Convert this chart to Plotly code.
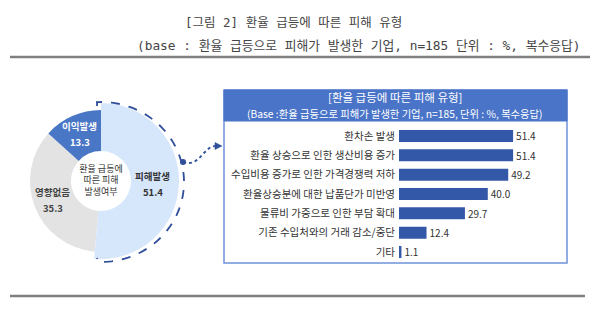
import numpy as np
import plotly.graph_objects as go

W, H = 599, 323
FONT = "Noto Sans CJK KR"
TITLE_FONT = "DejaVu Sans Mono, Noto Sans CJK KR"

# ---- data ----
pie_labels = ["피해발생", "영향없음", "이익발생"]
pie_values = [51.4, 35.3, 13.3]
bar_categories = [
    "환차손 발생",
    "환율 상승으로 인한 생산비용 증가",
    "수입비용 증가로 인한 가격경쟁력 저하",
    "환율상승분에 대한 납품단가 미반영",
    "물류비 가중으로 인한 부담 확대",
    "기존 수입처와의 거래 감소/중단",
    "기타",
]
bar_values = [51.4, 51.4, 49.2, 40.0, 29.7, 12.4, 1.1]

title_line1 = "[그림 2] 환율 급등에 따른 피해 유형"
title_line2 = "(base : 환율 급등으로 피해가 발생한 기업, n=185 단위 : %, 복수응답)"
box_title1 = "[환율 급등에 따른 피해 유형]"
box_title2 = "(Base :환율 급등으로 피해가 발생한 기업, n=185, 단위 : %, 복수응답)"
center_text = "환율 급등에<br>따른 피해<br>발생여부"

# ---- colours ----
LIGHT_BLUE = "#d6e6fb"
GREY = "#e3e3e3"
MID_BLUE = "#4a76c6"
BAR_BLUE = "#3458a8"
HEAD_BLUE = "#4a74c8"
BORDER_BLUE = "#6d93d8"
DASH_BLUE = "#2f4f9a"
TRANSP = "rgba(0,0,0,0)"
pie_text_colors = ["#333333", "#444444", "#ffffff"]


def X(px):
    return px / W


def Y(py):
    return 1 - py / H


fig = go.Figure()

# pie geometry (pixels)
cx, cy = 101, 181
rA, rB, rh = 78, 71, 30

fig.add_trace(go.Pie(
    labels=pie_labels, values=pie_values, sort=False, direction="clockwise", rotation=0,
    hole=rh / rA,
    domain=dict(x=[X(cx - rA), X(cx + rA)], y=[Y(cy + rA), Y(cy - rA)]),
    marker=dict(colors=[LIGHT_BLUE, TRANSP, TRANSP], line=dict(width=0)),
    textinfo="none", hoverinfo="skip", showlegend=False,
))
fig.add_trace(go.Pie(
    labels=pie_labels, values=pie_values, sort=False, direction="clockwise", rotation=0,
    hole=rh / rB,
    domain=dict(x=[X(cx - rB), X(cx + rB)], y=[Y(cy + rB), Y(cy - rB)]),
    marker=dict(colors=[TRANSP, GREY, MID_BLUE], line=dict(width=0)),
    textinfo="none",
    title=dict(text=center_text, position="middle center",
               font=dict(family=FONT, size=9, color="#333333")),
    showlegend=False,
))

# bar chart
px_per_unit = 2.22
bx0 = 399
xmax = 75
fig.add_trace(go.Bar(
    x=bar_values, y=bar_categories, orientation="h",
    marker=dict(color=BAR_BLUE, line=dict(width=0)), width=0.62,
    texttemplate="%{x:.1f}", textposition="outside", cliponaxis=False,
    constraintext="none",
    textfont=dict(family=FONT, size=10, color="#333333"),
    showlegend=False, xaxis="x", yaxis="y",
))

row_top, row_bot = 136, 252
step = (row_bot - row_top) / 6
fig.update_layout(
    width=W, height=H, margin=dict(l=0, r=0, t=0, b=0),
    paper_bgcolor="white", plot_bgcolor="rgba(0,0,0,0)",
    font=dict(family=FONT, color="#333333"),
    xaxis=dict(domain=[X(bx0), X(bx0 + xmax * px_per_unit)], range=[0, xmax],
               visible=False, fixedrange=True),
    yaxis=dict(domain=[Y(row_bot + step / 2), Y(row_top - step / 2)],
               range=[6.5, -0.5], showgrid=False, zeroline=False, showline=False,
               ticks="", ticklabelstandoff=3,
               tickfont=dict(family=FONT, size=10.5, color="#333333")),
)

shapes = []
# horizontal rules
shapes.append(dict(type="line", xref="paper", yref="paper", x0=X(10), x1=X(590), y0=Y(57), y1=Y(57),
                   line=dict(color="#808080", width=2.4)))
shapes.append(dict(type="line", xref="paper", yref="paper", x0=X(10), x1=X(585), y0=Y(296), y1=Y(296),
                   line=dict(color="#808080", width=2.4)))
# box
shapes.append(dict(type="rect", xref="paper", yref="paper", x0=X(224), x1=X(567), y0=Y(263), y1=Y(90),
                   line=dict(color=BORDER_BLUE, width=1.5), fillcolor="rgba(0,0,0,0)", layer="below"))
shapes.append(dict(type="rect", xref="paper", yref="paper", x0=X(224), x1=X(567), y0=Y(121), y1=Y(90),
                   line=dict(color=HEAD_BLUE, width=1), fillcolor=HEAD_BLUE, layer="below"))

# dashed arc around highlighted slice
acy, rx, ry = 182, 83, 80
pts = [(97, 106), (97, acy - ry)]
for t in np.linspace(-2, 182, 80):
    a = np.radians(t)
    pts.append((cx + rx * np.sin(a), acy - ry * np.cos(a)))
pts.append((97, acy + ry - 4))
path = "M " + " L ".join(f"{X(px):.5f},{Y(py):.5f}" for px, py in pts)
shapes.append(dict(type="path", xref="paper", yref="paper", path=path,
                   line=dict(color=DASH_BLUE, width=1.8, dash="dash")))
# connector curve
p0, c1, c2, p3 = (183, 162), (200, 168), (203, 146), (216, 146)
curve = (f"M {X(p0[0]):.5f},{Y(p0[1]):.5f} C {X(c1[0]):.5f},{Y(c1[1]):.5f} "
         f"{X(c2[0]):.5f},{Y(c2[1]):.5f} {X(p3[0]):.5f},{Y(p3[1]):.5f}")
shapes.append(dict(type="path", xref="paper", yref="paper", path=curve,
                   line=dict(color=DASH_BLUE, width=1.8, dash="dot")))
# arrow head
tri = f"M {X(215):.5f},{Y(142.5):.5f} L {X(222):.5f},{Y(146):.5f} L {X(215):.5f},{Y(149.5):.5f} Z"
shapes.append(dict(type="path", xref="paper", yref="paper", path=tri,
                   line=dict(color=DASH_BLUE, width=0.5), fillcolor=DASH_BLUE))
# dot
shapes.append(dict(type="circle", xref="paper", yref="paper",
                   x0=X(180), x1=X(186), y0=Y(165), y1=Y(159),
                   line=dict(color=DASH_BLUE, width=0), fillcolor=DASH_BLUE))
fig.update_layout(shapes=shapes)

annotations = [
    dict(text=title_line1, x=X(293), y=Y(22), xanchor="center", yanchor="middle",
         font=dict(family=TITLE_FONT, size=12.5, color="#444444")),
    dict(text=title_line2, x=X(582), y=Y(46), xanchor="right", yanchor="middle",
         font=dict(family=TITLE_FONT, size=12.8, color="#444444")),
    dict(text=box_title1, x=X(395), y=Y(97), xanchor="center", yanchor="middle",
         font=dict(family=FONT, size=11.5, color="white")),
    dict(text=box_title2, x=X(395), y=Y(113), xanchor="center", yanchor="middle",
         font=dict(family=FONT, size=10.3, color="white")),
]

# slice labels at each slice's mid-angle (derived from the values)
total = sum(pie_values)
cum = 0.0
r_text = 52
for lab, val, col in zip(pie_labels, pie_values, pie_text_colors):
    mid = np.radians((cum + val / 2) / total * 360)
    cum += val
    lx = cx + r_text * np.sin(mid)
    ly = cy - r_text * np.cos(mid)
    annotations.append(dict(text=f"<b>{lab}</b>", x=X(lx), y=Y(ly + 0.5),
                            xanchor="center", yanchor="bottom", borderpad=0,
                            font=dict(family=FONT, size=9.5, color=col)))
    annotations.append(dict(text=f"<b>{val:.1f}</b>", x=X(lx), y=Y(ly + 0.5),
                            xanchor="center", yanchor="top", borderpad=0,
                            font=dict(family=FONT, size=9.5, color=col)))

for a in annotations:
    a.update(xref="paper", yref="paper", showarrow=False)
fig.update_layout(annotations=annotations)

fig.write_html("out.html")
